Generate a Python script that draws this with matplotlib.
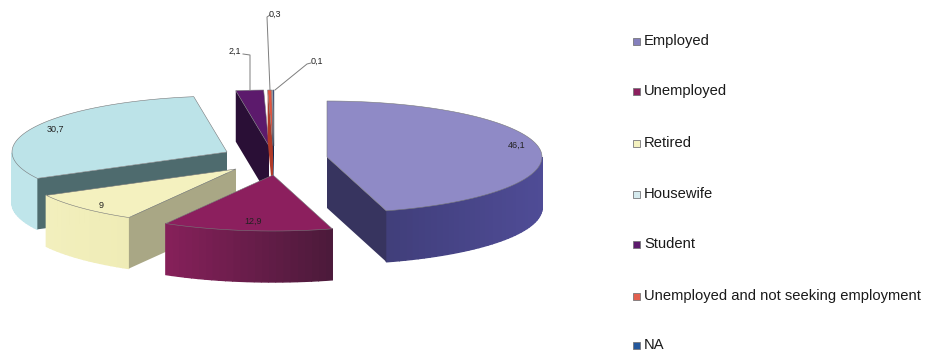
import numpy as np
import matplotlib
matplotlib.use("Agg")
import matplotlib.pyplot as plt
from matplotlib.colors import to_rgb
from matplotlib.patches import Polygon, Rectangle

plt.rcParams['font.family'] = ['Liberation Sans', 'DejaVu Sans']

categories = ["Employed", "Unemployed", "Retired", "Housewife", "Student",
              "Unemployed and not seeking employment", "NA"]
values = [46.1, 12.9, 9, 30.7, 2.1, 0.3, 0.1]

# colours per slice: top, radial wall, outer wall start, outer wall end, legend
top_colors = ["#8f8ac6", "#8c1f5e", "#f4f1bf", "#bce3e8", "#5c1a6c", "#e2553f", "#24407c"]
radial_colors = ["#37345f", "#5a1a42", "#a9a785", "#4e6b6e", "#2a0f36", "#b03a28", "#142a50"]
outer_from = ["#3b3970", "#86205a", "#f2efbd", "#bfe5ea", "#2a0f36", "#c04430", "#142a50"]
outer_to = ["#4f4c96", "#4b1a3a", "#efecb6", "#bde2e7", "#2a0f36", "#c04430", "#142a50"]
legend_colors = ["#8580bd", "#8c1f5e", "#f4f1bf", "#d5eaee", "#5c1a6c", "#e2604f", "#24589c"]

# exploded slice apex in figure pixels
apex = [(327, 157), (273, 175), (236, 169), (227, 152), (269, 146), (273, 146), (274, 146)]
rx, ry, depth = 215, 56, 51
draw_order = [3, 4, 5, 6, 2, 0, 1]

# leader lines for the small slices: slice index, label anchor points
leaders = {4: [(243, 54), (250, 55), (250, 90)],
           5: [(270, 15), (267, 17), (270, 90)],
           6: [(311, 63), (307, 64), (275, 90)]}
label_pos = [(517, 145), (253, 221), (101, 205), (55, 129), (235, 51), (275, 14), (317, 61)]
legend_y = [41, 91, 143, 194, 244, 296, 345]


def blend(c0, c1, t):
    a, b = np.array(to_rgb(c0)), np.array(to_rgb(c1))
    return tuple(a + (b - a) * t)


fig = plt.figure(figsize=(9.26, 3.55), dpi=100)
ax = fig.add_axes([0, 0, 1, 1])
ax.set_xlim(0, 926)
ax.set_ylim(355, 0)
ax.axis("off")

# slice angles run clockwise from twelve o'clock
edges = np.cumsum([0] + values) / sum(values) * 2 * np.pi

# patches share one zorder, so they stack in the order they are added
for i in draw_order:
    cx, cy = apex[i]
    t = np.linspace(edges[i], edges[i + 1], max(4, int(values[i] * 2)))
    ax_pts = np.column_stack([cx + rx * np.sin(t), cy - ry * np.cos(t)])

    # walls first; a wall shows when the clockwise outline runs leftwards
    xmin, xmax = ax_pts[:, 0].min(), ax_pts[:, 0].max()
    for a, b in zip(ax_pts[:-1], ax_pts[1:]):
        if b[0] < a[0]:
            shade = 1 - ((a[0] + b[0]) / 2 - xmin) / max(xmax - xmin, 1)
            col = blend(outer_to[i], outer_from[i], shade)
            ax.add_patch(Polygon([a, b, (b[0], b[1] + depth), (a[0], a[1] + depth)],
                                 fc=col, ec=col, lw=1.0, zorder=1))
    for p0, p1 in [((cx, cy), tuple(ax_pts[0])), (tuple(ax_pts[-1]), (cx, cy))]:
        if p1[0] < p0[0]:
            ax.add_patch(Polygon([p0, p1, (p1[0], p1[1] + depth), (p0[0], p0[1] + depth)],
                                 fc=radial_colors[i], ec="none", zorder=1))
    ax.add_patch(Polygon(np.vstack([[cx, cy], ax_pts]), fc=top_colors[i],
                         ec="#77787a", lw=0.4, zorder=1))

for i, pts in leaders.items():
    xs, ys = zip(*pts)
    ax.plot(xs, ys, color="#7d7d7d", lw=0.7, zorder=3)

for val, (x, y) in zip(values, label_pos):
    ax.text(x, y, f"{val:g}".replace(".", ","), fontsize=6.5, color="#222222",
            ha="center", va="center", zorder=4)

for name, col, y in zip(categories, legend_colors, legend_y):
    ax.add_patch(Rectangle((632.5, y - 3.5), 7.5, 7.5, fc=col, ec="#77777a", lw=0.6, zorder=3))
    ax.text(644, y, name, fontsize=10.65, color="#1a1a1a", ha="left", va="center", zorder=4)

fig.savefig("out.png", dpi=100)
